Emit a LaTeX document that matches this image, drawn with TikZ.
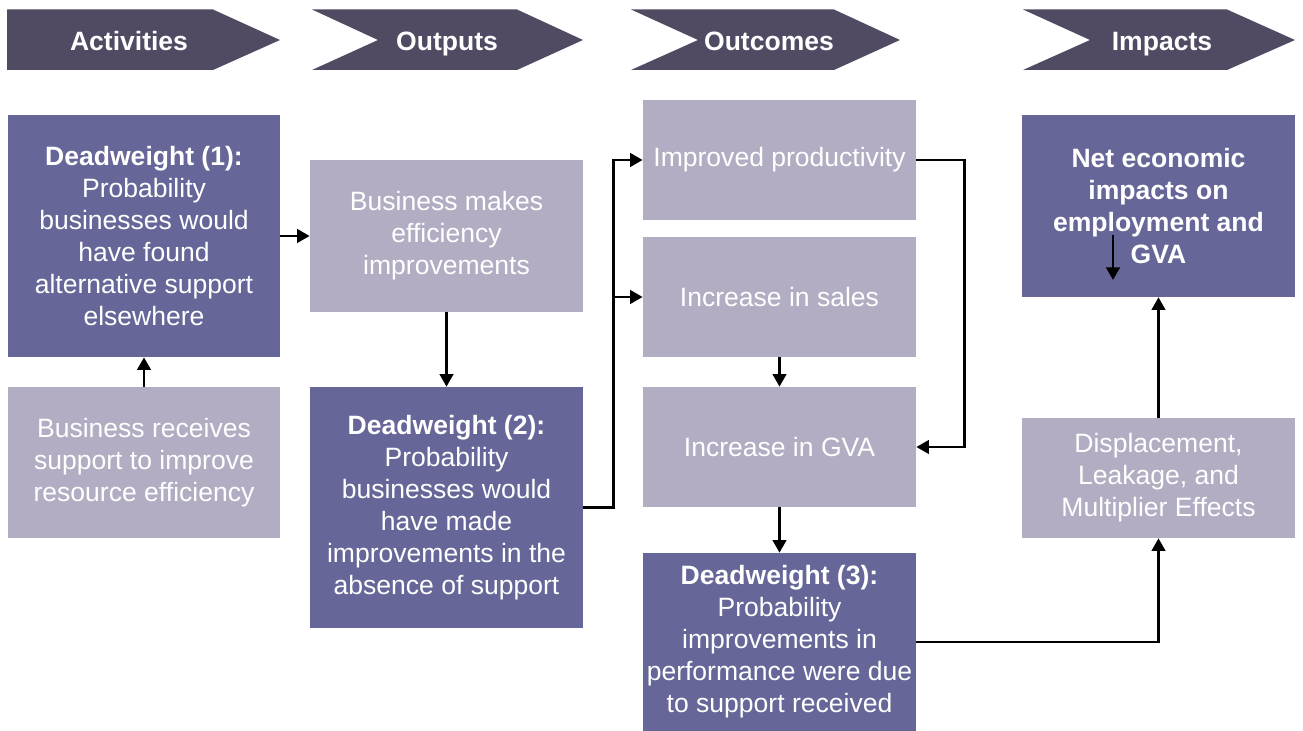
\documentclass[tikz,border=0pt]{standalone}
\usepackage{fontspec}
\setmainfont{Liberation Sans}
\usepackage{tikz}
\usetikzlibrary{arrows.meta}
\definecolor{chevronGrey}{HTML}{504A63}
\definecolor{darkPurple}{HTML}{666699}
\definecolor{lightPurple}{HTML}{B2ADC2}
\tikzstyle{chevronFill}=[fill=chevronGrey]
\tikzstyle{chevronText}=[text=white,anchor=base,font=\fontsize{15.1}{18.2}\selectfont\bfseries]
\tikzstyle{darkBox}=[fill=darkPurple,text=white,align=center,inner sep=0pt,minimum width=5.46cm,font=\fontsize{15.1}{18.2}\selectfont]
\tikzstyle{lightBox}=[fill=lightPurple,text=white,align=center,inner sep=0pt,minimum width=5.46cm,font=\fontsize{15.1}{18.2}\selectfont]
\tikzstyle{flowArrow}=[-{Triangle[length=0.25cm,width=0.27cm]}, line width=1.4pt]

\begin{document}
\begin{tikzpicture}
	\useasboundingbox (0,0) rectangle (26.06,-14.62);

	% header chevrons
	\fill[chevronFill] (0.14,-0.19) -- (4.26,-0.19) -- (5.60,-0.80) -- (4.26,-1.40) -- (0.14,-1.40) -- cycle;
	\fill[chevronFill] (6.24,-0.19) -- (10.34,-0.19) -- (11.66,-0.80) -- (10.34,-1.40) -- (6.24,-1.40) -- (7.56,-0.80) -- cycle;
	\fill[chevronFill] (12.62,-0.19) -- (16.68,-0.19) -- (18.00,-0.80) -- (16.68,-1.40) -- (12.62,-1.40) -- (13.96,-0.80) -- cycle;
	\fill[chevronFill] (20.46,-0.19) -- (24.54,-0.19) -- (25.90,-0.80) -- (24.54,-1.40) -- (20.46,-1.40) -- (21.80,-0.80) -- cycle;

	\node[chevronText] (hdAct) at (2.58, -1.01) {Activities};
	\node[chevronText] (hdOut) at (8.94, -1.01) {Outputs};
	\node[chevronText] (hdOutc) at (15.38, -1.01) {Outcomes};
	\node[chevronText] (hdImp) at (23.24, -1.01) {Impacts};

	% activities
	\node[darkBox, minimum width=5.44cm, minimum height=4.84cm] (dw1) at (2.88, -4.72) {\textbf{Deadweight (1):}\\Probability\\businesses would\\have found\\alternative support\\elsewhere};
	\node[lightBox, minimum width=5.44cm, minimum height=3.02cm] (recv) at (2.88, -9.25) {Business receives\\support to improve\\resource efficiency};

	% outputs
	\node[lightBox, minimum height=3.04cm] (makes) at (8.93, -4.72) {Business makes\\efficiency\\improvements};
	\node[darkBox, minimum height=4.82cm] (dw2) at (8.93, -10.15) {\textbf{Deadweight (2):}\\Probability\\businesses would\\have made\\improvements in the\\absence of support};

	% outcomes
	\node[lightBox, minimum height=2.40cm] (prod) at (15.59, -3.20) {Improved productivity};
	\node[lightBox, minimum height=2.40cm] (sales) at (15.59, -5.94) {Increase in sales};
	\node[lightBox, minimum height=2.40cm] (gva) at (15.59, -8.94) {Increase in GVA};
	\node[darkBox, minimum height=3.56cm] (dw3) at (15.59, -12.84) {\textbf{Deadweight (3):}\\Probability\\improvements in\\performance were due\\to support received};

	% impacts
	\node[darkBox, minimum height=3.64cm, font=\fontsize{15.1}{18.2}\selectfont\bfseries] (net) at (23.17, -4.12) {Net economic\\impacts on\\employment and\\GVA};
	\node[lightBox, minimum height=2.40cm] (disp) at (23.17, -9.56) {Displacement,\\Leakage, and\\Multiplier Effects};

	\coordinate (strayTop) at (22.26, -4.70);
	\coordinate (strayEnd) at (22.26, -5.60);

	\draw[flowArrow] (recv) -- (dw1);
	\draw[flowArrow] (dw1) -- (makes);
	\draw[flowArrow] (makes) -- (dw2);

	\draw[flowArrow] (dw2.east) -- ++(0.60,0) |- (prod.west);
	\draw[flowArrow] (dw2.east) -- ++(0.60,0) |- (sales.west);

	\draw[flowArrow] (prod.east) -- ++(0.96,0) |- (gva.east);
	\draw[flowArrow] (sales) -- (gva);
	\draw[flowArrow] (gva) -- (dw3);

	\draw[flowArrow] (dw3) -| (disp);
	\draw[flowArrow] (disp) -- (net);
	\draw[flowArrow] (strayTop) -- (strayEnd);
\end{tikzpicture}
\end{document}
